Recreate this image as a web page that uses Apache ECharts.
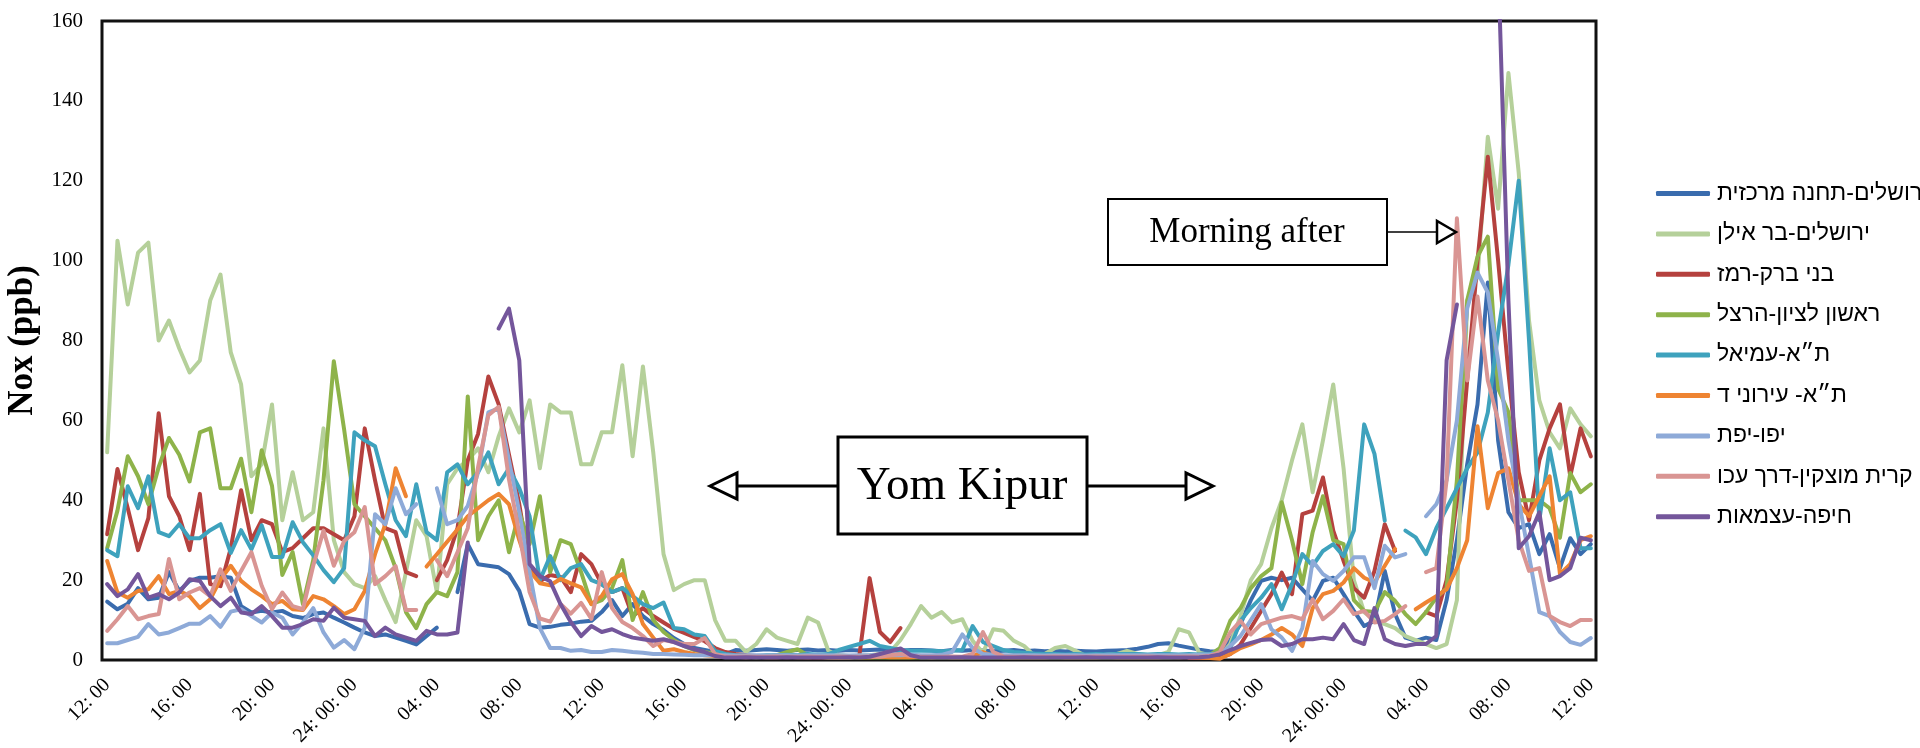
<!DOCTYPE html>
<html>
<head>
<meta charset="utf-8">
<title>Nox - Yom Kipur</title>
<script src="https://cdn.jsdelivr.net/npm/echarts@6.0.0/dist/echarts.min.js"></script>
<style>
  html, body { margin: 0; padding: 0; background: #fff; }
  #chart { width: 1920px; height: 748px; }
</style>
</head>
<body>
<div id="chart"></div>
<script>
// x axis: half-hour readings, a label every 4 hours
const tickLabels = ['12: 00','16: 00','20: 00','24: 00: 00','04: 00','08: 00','12: 00','16: 00','20: 00','24: 00: 00','04: 00','08: 00','12: 00','16: 00','20: 00','24: 00: 00','04: 00','08: 00','12: 00'];
const categories = [];
for (let i = 0; i < 145; i++) categories.push(i % 8 === 0 ? tickLabels[i / 8] : '');

const yTicks = [0, 20, 40, 60, 80, 100, 120, 140, 160];

const stationNames = ['ירושלים-תחנה מרכזית','ירושלים-בר אילן','בני ברק-רמז','ראשון לציון-הרצל','ת״א-עמיאל','ת״א- עירוני ד','יפו-יפת','קרית מוצקין-דרך עכו','חיפה-עצמאות'];

const jerusalemCentral = [14.6,12.7,14.1,18,15.2,15.6,22,17.3,19.8,20.6,
  20.6,21,20.6,13.5,11.9,12.3,11.9,12.3,11,10.5,
  11.5,11.9,10.6,9.4,8.1,6.9,6,6.4,5.6,4.8,
  3.9,6,8.1,null,17,29,24,23.6,23.2,21.5,
  17.3,9,8.1,8.3,8.8,9.1,9.6,9.8,12,15,
  11,14,11,9,7.5,5.5,4,3,2.5,2,
  1.5,2.5,2.3,2.5,2.7,2.5,2.3,2.5,2.6,2.4,
  2.5,2.3,2.5,2.4,2.5,2.6,2.4,2.3,2.5,2.5,
  2.4,2.2,2.5,2.3,2.5,2.4,2.2,2.3,2.5,2.2,
  2.4,2.2,2.3,2.1,2.3,2.2,2.1,2.3,2.4,2.5,
  2.8,3.3,4,4.2,3.6,3.1,2.6,2.2,2,5,
  9,15,19.8,20.6,20,20.6,17.7,14.8,19.8,20.6,
  16.5,12.3,8.5,9.8,22.3,11.5,5.6,4.8,5.6,5,
  15,30,49,64,94.5,55,37,33,34,26.5,
  31.5,23,30.5,26.5,29];

const jerusalemBarIlan = [52,105,89,102,104.5,80,85,78,72,75,
  90,96.5,77,69,46,49,64,35,47,35,
  37,58,30,22,19,18,21,15,9.5,22,
  35,31,17,44,48,50,53,47,56,63,
  57,65,48,64,62,62,49,49,57,57,
  73.8,51,73.5,52,26.5,17.5,19,20,20,10,
  4.8,4.8,2,4,7.7,5.6,4.8,4,10.6,9.4,
  2.3,1.2,1,1,1.2,1.5,2,5,9,13.5,
  10.6,12,9.4,10.2,4.8,1.8,7.7,7.3,4.8,3.5,
  1,1.5,3,3.5,2.3,1,1,1.2,1.5,2.3,
  1.5,1.2,1.2,2,7.7,6.9,1.8,1.2,1,4,
  11,20,24,33,40,50,59,42,55,69,
  48,20,12,10,9,8,6,5,4,3,
  4,15,90,96,131,113,147,122,85,65,
  57,53,63,59,56];

const bneiBrak = [31.5,47.8,38,27.5,35.5,61.8,41,36,27.5,41.6,
  19,18.5,28,42.5,30,35,34,27,28,30.5,
  33,33,31.5,30,36,58,45,33,32,22,
  21,null,20,25,33,50,56.6,71,64,51.4,
  39,23.4,19.7,21.3,20.8,17,26.5,24,19,17,
  18,11,13,11,9.4,7.8,6.8,5.7,4.7,3,
  2,1.5,1.2,1,0.8,0.8,0.7,0.8,0.7,0.6,
  0.6,0.5,0.5,1,20.5,7,4.5,8,null,null,
  null,null,null,null,null,null,null,null,null,null,
  null,null,null,null,null,null,null,null,null,null,
  null,null,null,null,null,0.5,0.5,0.5,0.6,1.5,
  3.9,8,12.3,16.5,21.9,16.5,36.5,37.4,45.7,32.4,
  24.8,18,15.6,22.3,34,27.3,null,null,12,11,
  20,40,70,100,126,100,72,47,35,50,
  58,64,46,58,51];

const rishonHerzl = [28,37.4,51,46,39,48.3,55.6,51.4,44.7,57,
  58,43,43,50.4,37,52.5,43.6,21.3,27,14,
  25,45,74.8,57.7,39,36,33,30,23,12,
  8,14,17,16,22,66,30,36,40,27,
  37,29,41,22,30,29,22,14,15,18,
  25,10,17,10,7,5,3.5,2.5,2,1.5,
  1,0.8,0.8,0.7,0.8,1.2,2,2.7,1.2,0.8,
  0.6,0.6,0.7,0.6,0.6,0.7,0.6,0.6,0.6,0.7,
  0.6,0.6,0.6,0.7,0.6,0.6,0.6,0.6,0.6,0.6,
  0.6,0.6,0.6,0.6,0.7,0.6,0.6,0.6,0.6,0.6,
  0.6,0.6,0.6,0.6,0.7,0.8,1,1.2,3,9.8,
  13,18,21,23,39.5,30,19,32,41,30,
  29,15,12.3,12,17,14.8,11.5,9,12,15.6,
  18,45,90,101,106,68,62,40,40,40,
  38,30.6,46.8,42,44];

const telAvivAmiel = [27.5,26,43.5,38,46,32,31,34,30.5,30.5,
  32.5,34,26.8,32.5,27.7,33.7,25.8,25.8,34.5,29.5,
  26.2,22.5,19.5,23,57,55,53.5,44,35,31,
  44,32,30,47,49,44,47,52,44,48,
  43,36,20,26,20,23,24,20,19,17,
  18,16,14,13,14.4,8,7.7,6.4,6,2.3,
  1.5,1.2,1,1,1.2,1.2,1.3,1.2,1.5,1.3,
  1.5,2.5,3.3,4,4.8,3.5,3,2.5,2.3,2.3,
  2.3,2.2,2.3,2.5,8.5,4.5,3.5,2.5,2,1.8,
  1.6,1.5,1.5,1.4,1.5,1.4,1.5,1.4,1.5,1.5,
  1.5,1.4,1.5,1.5,1.4,1.5,1.4,1.5,1.6,3,
  9.8,13,15.6,19,12.7,19,26.5,23.6,27.3,29,
  26,32.4,59,51.6,34.9,null,32.4,30.7,26.5,33,
  38,43,48,52,62,82,99,120,80,35,
  53,40,42,28,28];

const telAvivIroni = [24.8,16.9,15.6,17.3,17.7,21,16.5,17.3,16,13,
  15.2,20.2,23.6,19.8,17.7,16,14,14.8,12.7,12.5,
  16,15.2,13.5,11.5,12.7,17.3,26.5,34,48,41,
  null,23.4,26.5,29.6,32.7,36,38,40,41.6,39,
  30,22.3,19.2,18.7,20.3,19.2,18.2,14,16,20.2,
  21.5,16.5,9,5.6,2.3,2.7,2,1.5,1.2,1,
  0.8,0.8,0.7,0.8,0.7,0.7,0.8,0.7,0.7,0.8,
  0.7,0.7,0.8,0.7,0.7,0.8,0.7,0.7,0.7,0.8,
  0.7,0.8,0.7,0.7,1,2,1,0.7,0.7,0.7,
  0.7,0.7,0.8,0.7,0.7,0.7,0.7,0.8,0.7,0.7,
  0.7,0.7,0.7,0.8,0.7,0.7,0.6,0.5,0.3,1.5,
  3,3.9,5,6.4,8,6.4,3.5,13,16.5,17.3,
  19.4,23,20.6,19.4,23.6,27.8,null,12.7,14.4,16,
  17.7,23,30,58.5,38,46.8,48,39,36,41,
  46,21.5,24,30,31];

const jaffaYefet = [4.2,4.2,5,5.8,9,6.4,6.9,8,9.1,9.1,
  11,8.3,12.1,12.7,11,9.4,11.9,10.6,6.4,9.4,
  13,6.9,3.1,5,2.7,8.1,36.5,34,43,36.5,
  39,null,43,34,35,38.6,47,62,63,50,
  37,22,8,3,3,2.3,2.5,2,2,2.5,
  2.3,2,1.8,1.5,1.5,1.4,1.3,1.2,1.2,1.2,
  1.2,1.1,1.2,1.2,1.1,1.2,1.2,1.1,1.2,1.2,
  1.2,1.2,1.1,1.2,1.2,1.3,1.2,1.2,1.3,1.2,
  1.2,1.3,2,6.4,3,1.5,1.3,1.2,1.2,1.2,
  1.2,1.1,1.2,1.2,1.2,1.1,1.2,1.2,1.2,1.2,
  1.2,1.2,1.2,1.2,1.2,1.2,1.3,1.4,1.5,3.5,
  6,10,14,7.7,5.6,2.3,8,24.8,21.5,19.8,
  22.3,25.7,25.7,18,28.6,25.7,26.5,null,36,39,
  45,60,88,97,92,75,55,40,26,12,
  11,7,4.5,3.8,5.5];

const kiryatMotzkin = [7.3,10.2,13.5,10.2,11,11.5,25.3,15.2,16.9,18,
  16,22.7,17.3,22.3,27,18.6,12.7,16.9,13.5,12.7,
  23.6,32.4,23.6,29.8,32,38.3,19,21,23.5,12.5,
  12.5,null,25,21,27,33,48.3,61.3,63.4,45.2,
  31.7,17,10.4,9.6,14,11.6,14.3,10.3,22,13,
  9.5,8,6,3.5,5,4.5,4,4,5.5,1.5,
  0.8,0.8,0.9,0.8,0.8,0.9,0.8,0.8,0.9,0.8,
  0.8,0.9,0.8,0.8,0.9,0.8,1.2,1.5,1,0.8,
  0.8,0.8,0.9,0.8,1.5,7,2,0.9,0.8,0.8,
  0.8,0.8,0.9,0.8,0.8,0.8,0.9,0.8,0.8,0.8,
  0.8,0.9,0.8,0.8,0.8,0.9,0.8,1,2,6.9,
  9.8,6.4,9,9.8,10.6,11,10.2,15.2,10.2,12.3,
  15.2,11.5,12.3,9.4,9.8,11.5,13.5,null,22,23,
  45,110.6,70,91,70,60,45,30,22.3,23,
  11,9.5,8.5,10,10];

const haifaAtzmaut = [19,16,17.7,21.5,15.6,16.5,15.2,16.9,20.2,19.8,
  16,13.5,15.6,11.9,11.5,13.5,11,8.1,8.1,9,
  10.2,9.8,13.1,10.6,10.2,9.8,6,8.1,6.4,5.6,
  4.8,7.3,6.4,6.4,6.9,29.4,null,null,83,88,
  75,24,21,19.7,14,9.5,6,8.5,7,7.7,
  6.5,5.6,5.2,4.8,5.2,4.5,3.5,2.7,2,1,
  0.6,0.6,0.7,0.6,0.6,0.6,0.7,0.6,0.6,0.6,
  0.6,0.6,0.7,0.6,0.8,1.5,2.2,2.9,1.2,0.6,
  0.6,0.6,0.6,0.7,0.6,0.6,0.6,0.6,0.6,0.7,
  0.6,0.6,0.6,0.6,0.6,0.7,0.6,0.6,0.6,0.6,
  0.6,0.6,0.7,0.6,0.6,0.6,0.7,0.9,1.4,2.5,
  3.5,4.3,5,5.2,3.5,4,5.2,5.2,5.6,5.2,
  9,5,4,13,5.2,4,3.5,4,4,6,
  75,89,null,null,170,175,90,28,31,37,
  20,21,23,30.6,30];

const seriesData = [jerusalemCentral, jerusalemBarIlan, bneiBrak, rishonHerzl, telAvivAmiel, telAvivIroni, jaffaYefet, kiryatMotzkin, haifaAtzmaut];
const colors = ['#3a6cae','#b5d09a','#b5413e','#8eb34a','#3ea2bd','#ee8432','#8eaad8','#d99593','#74569b'];

const serif = '"Liberation Serif", "Times New Roman", serif';

let option = {
  animation: false,
  backgroundColor: '#fff',
  color: colors,
  grid: {
    left: 102,
    right: 324,
    top: 21,
    bottom: 88,
    show: true,
    borderColor: '#111',
    borderWidth: 3,
    outerBoundsMode: 'none'
  },
  legend: {
    orient: 'vertical',
    left: 1651,
    top: 177,
    icon: 'roundRect',
    itemWidth: 54,
    itemHeight: 5,
    itemGap: 17.4,
    textStyle: {
      fontFamily: '"Liberation Sans", Arial, sans-serif',
      fontSize: 23,
      lineHeight: 23,
      color: '#000',
      padding: [0, 0, 0, 2]
    },
    data: stationNames
  },
  xAxis: {
    type: 'category',
    data: categories,
    boundaryGap: true,
    axisLine: { show: false },
    axisTick: { show: false },
    axisLabel: {
      interval: 7,
      rotate: 45,
      margin: 22,
      fontFamily: serif,
      fontSize: 20,
      color: '#000'
    }
  },
  yAxis: {
    type: 'value',
    min: yTicks[0],
    max: yTicks[yTicks.length - 1],
    interval: yTicks[1] - yTicks[0],
    name: 'Nox (ppb)',
    nameLocation: 'middle',
    nameGap: 62,
    nameTextStyle: {
      fontFamily: serif,
      fontWeight: 'bold',
      fontSize: 35,
      color: '#000'
    },
    axisLine: { show: false },
    axisTick: { show: false },
    splitLine: { show: false },
    axisLabel: {
      margin: 19,
      fontFamily: serif,
      fontSize: 21,
      color: '#000'
    }
  },
  series: stationNames.map(function (name, k) {
    return {
      name: name,
      type: 'line',
      data: seriesData[k],
      symbol: 'none',
      connectNulls: false,
      lineStyle: { width: 4, cap: 'round', join: 'round' }
    };
  }),
  // annotation boxes and arrows
  graphic: [
    { type: 'line', z: 100, shape: { x1: 838, y1: 486, x2: 736, y2: 486 }, style: { stroke: '#000', lineWidth: 3 } },
    { type: 'polygon', z: 101, shape: { points: [[710, 486], [737, 473], [737, 499]] }, style: { fill: '#fff', stroke: '#000', lineWidth: 3 } },
    { type: 'line', z: 100, shape: { x1: 1087, y1: 486, x2: 1187, y2: 486 }, style: { stroke: '#000', lineWidth: 3 } },
    { type: 'polygon', z: 101, shape: { points: [[1213, 486], [1186, 473], [1186, 499]] }, style: { fill: '#fff', stroke: '#000', lineWidth: 3 } },
    { type: 'rect', z: 100, shape: { x: 838, y: 437, width: 249, height: 97 }, style: { fill: '#fff', stroke: '#000', lineWidth: 3 } },
    { type: 'text', z: 102, x: 962, y: 487, style: { text: 'Yom Kipur', font: '47px ' + serif, fill: '#000', align: 'center', verticalAlign: 'middle' } },
    { type: 'line', z: 100, shape: { x1: 1387, y1: 232, x2: 1437, y2: 232 }, style: { stroke: '#000', lineWidth: 1.5 } },
    { type: 'polygon', z: 101, shape: { points: [[1456, 232], [1437, 221], [1437, 243]] }, style: { fill: '#fff', stroke: '#000', lineWidth: 2.5 } },
    { type: 'rect', z: 100, shape: { x: 1108, y: 199, width: 279, height: 66 }, style: { fill: '#fff', stroke: '#000', lineWidth: 2 } },
    { type: 'text', z: 102, x: 1247, y: 233, style: { text: 'Morning after', font: '35px ' + serif, fill: '#000', align: 'center', verticalAlign: 'middle' } }
  ]
};

let chart = echarts.init(document.getElementById('chart'));
chart.setOption(option);
</script>
</body>
</html>
